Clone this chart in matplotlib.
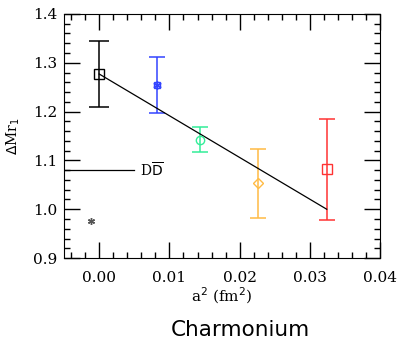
import numpy as np
import matplotlib.pyplot as plt
from matplotlib.ticker import MultipleLocator

# data
a2 = [0.0, 0.0082, 0.0144, 0.0226, 0.0324]
dm = [1.277, 1.254, 1.142, 1.053, 1.082]
err_hi = [1.345, 1.311, 1.168, 1.124, 1.185]
err_lo = [1.210, 1.198, 1.118, 0.983, 0.978]
colors = ['black', '#3344ff', '#33ee99', '#ffbb44', '#ff3333']
markers = ['s', (6, 2, 0), 'o', 'D', 's']
msizes = [7, 6, 6, 5, 7]

fit_x = [0.0, 0.0324]
fit_y = [1.277, 1.000]

dd_x = [-0.005, 0.005]
dd_y = [1.080, 1.080]

extra_x = [-0.0011]
extra_y = [0.976]


def main():
    fig = plt.figure(figsize=(3.98, 3.40), dpi=100)
    ax = fig.add_axes([0.161, 0.241, 0.794, 0.718])

    for i in range(len(a2)):
        lo = dm[i] - err_lo[i]
        hi = err_hi[i] - dm[i]
        ax.errorbar(a2[i], dm[i], yerr=[[lo], [hi]], color=colors[i],
                    marker=markers[i], ms=msizes[i], mfc='none', mec=colors[i],
                    capsize=7 if i == 0 else 6, elinewidth=1.1, capthick=1.1, lw=0)
    # blue point is drawn as a small box with a cross inside
    ax.plot(a2[1], dm[1], marker='s', ms=4, mfc='none', mec=colors[1], lw=0)

    ax.plot(fit_x, fit_y, color='black', lw=0.9)
    ax.plot(dd_x, dd_y, color='black', lw=0.9)
    ax.text(0.0058, 1.080, r'D$\overline{\rm D}$', family='DejaVu Serif',
            fontsize=10, va='center', ha='left')
    ax.plot(extra_x, extra_y, marker=(6, 2, 0), ms=5, color='#555555', lw=0)

    ax.set_xlim(-0.005, 0.04)
    ax.set_ylim(0.9, 1.4)
    ax.xaxis.set_major_locator(MultipleLocator(0.01))
    ax.xaxis.set_minor_locator(MultipleLocator(0.002))
    ax.yaxis.set_major_locator(MultipleLocator(0.1))
    ax.yaxis.set_minor_locator(MultipleLocator(0.02))
    ax.set_xticks([0.0, 0.01, 0.02, 0.03, 0.04])
    ax.set_xticklabels(['0.00', '0.01', '0.02', '0.03', '0.04'])
    ax.set_yticklabels(['%.1f' % v for v in ax.get_yticks()])
    ax.tick_params(which='both', direction='in', top=True, right=True, width=1)
    ax.tick_params(which='major', length=11.5)
    ax.tick_params(which='minor', length=4.3)
    ax.tick_params(axis='y', pad=5)
    ax.tick_params(axis='x', pad=9)
    for lab in ax.get_xticklabels() + ax.get_yticklabels():
        lab.set_family('DejaVu Serif')
        lab.set_fontsize(11)

    ax.set_xlabel(r'a$^2$ (fm$^2$)', family='DejaVu Serif', fontsize=11, labelpad=1)
    ax.set_ylabel(r'$\Delta$Mr$_1$', family='DejaVu Serif', fontsize=10, labelpad=8)

    fig.text(0.603, 0.012, 'Charmonium', family='DejaVu Sans', fontsize=15.5,
             ha='center', va='baseline')

    fig.savefig('out.png', dpi=100)


if __name__ == '__main__':
    main()
